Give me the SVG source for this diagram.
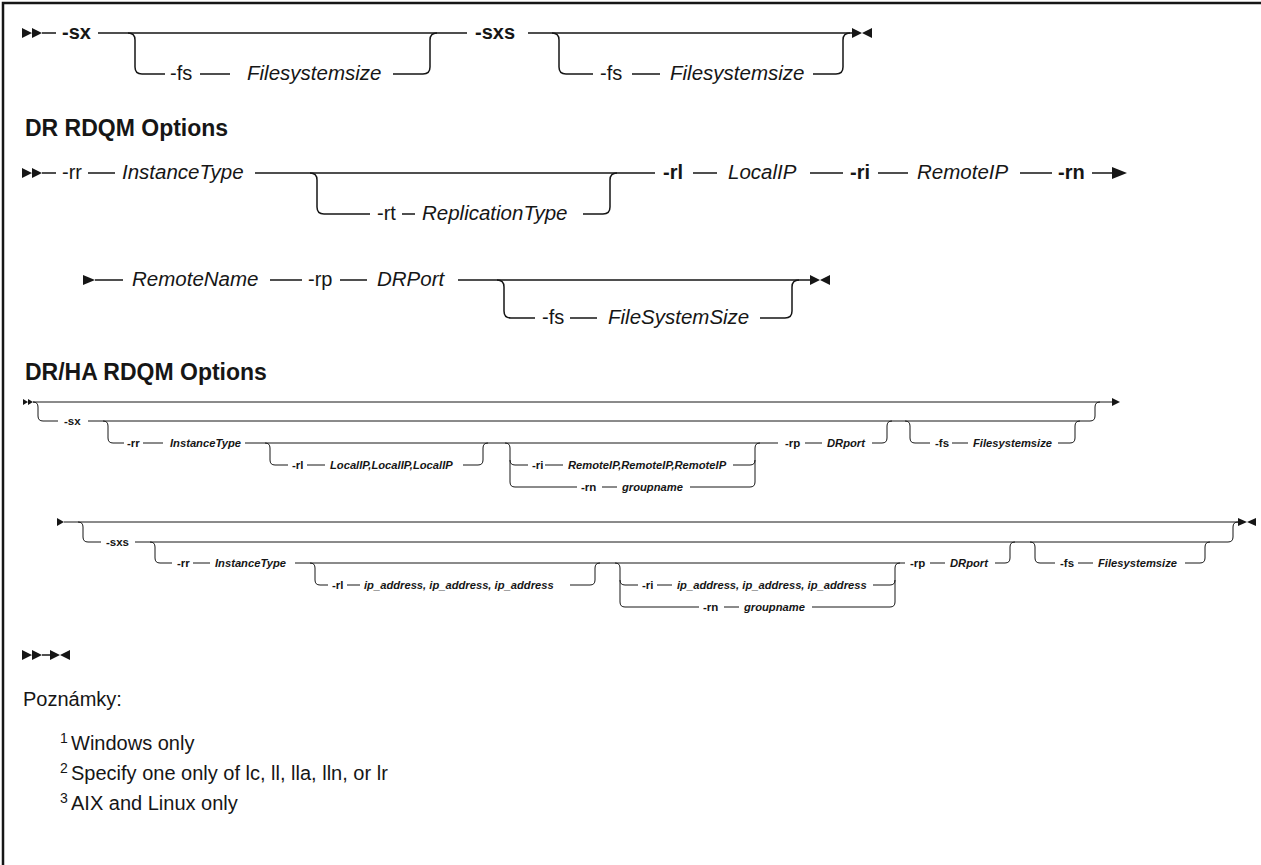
<svg xmlns="http://www.w3.org/2000/svg" width="1261" height="865" viewBox="0 0 1261 865">
<style>
text{font-family:"Liberation Sans",Arial,sans-serif;fill:#161616}
.o{font-size:20px}
.k{font-size:20px;font-weight:bold}
.v{font-size:20.5px;font-style:italic}
.h{font-size:23px;font-weight:bold}
.s{font-size:11.5px;font-weight:bold}
.sv{font-size:11.2px;font-weight:bold;font-style:italic}
.n{font-size:20px}
.sup{font-size:14px}
.L{fill:none;stroke:#161616;stroke-width:1.5}
.T{fill:none;stroke:#161616;stroke-width:1}
.m{fill:#161616}
</style>
<rect width="1261" height="865" fill="#fff"/>
<path d="M3,865 V3 H1261" fill="none" stroke="#161616" stroke-width="2.5"/>

<g id="connectors">
<!-- row 1 -->
<path class="m" d="M22,28 L32,33 L22,38 Z M32,28 L42,33 L32,38 Z"/>
<path class="L" d="M42,33 H56 M98,33 H467 M528,33 H852"/>
<path class="L" d="M128,33 Q135,33 135,40 V67 Q135,74 142,74 H165 M200,74 H230 M393,74 H423 Q430,74 430,67 V40 Q430,33 437,33"/>
<path class="L" d="M552,33 Q559,33 559,40 V67 Q559,74 566,74 H593 M632,74 H660 M813,74 H836 Q843,74 843,67 V40 Q843,33 850,33"/>
<path class="m" d="M852,28 L862,33 L852,38 Z M872,28 L862,33 L872,38 Z"/>
<!-- row 2 -->
<path class="m" d="M22,168 L32,173 L22,178 Z M32,168 L42,173 L32,178 Z"/>
<path class="L" d="M42,173 H56 M88,173 H115 M255,173 H655 M693,173 H717 M810,173 H843 M878,173 H908 M1020,173 H1052 M1092,173 H1114"/>
<path class="L" d="M310,173 Q317,173 317,180 V207 Q317,214 324,214 H370 M402,214 H415 M583,214 H603 Q610,214 610,207 V180 Q610,173 617,173"/>
<path class="m" d="M1112,167 L1127,173 L1112,179 Z"/>
<!-- row 3 -->
<path class="m" d="M83,275 L95,280 L83,285 Z"/>
<path class="L" d="M95,280 H123 M270,280 H302 M340,280 H367 M458,280 H810"/>
<path class="L" d="M497,280 Q504,280 504,287 V311 Q504,318 511,318 H535 M570,318 H597 M760,318 H785 Q792,318 792,311 V287 Q792,280 799,280"/>
<path class="m" d="M810,275 L820,280 L810,285 Z M830,275 L820,280 L830,285 Z"/>
<!-- DR/HA row 1 -->
<path class="m" d="M23,399 L28,402 L23,405 Z M28,399 L33,402 L28,405 Z"/>
<path class="T" d="M33,402 H1112"/>
<path class="m" d="M1112,398 L1120,402 L1112,406 Z"/>
<path class="T" d="M33,402 Q38,402 38,407 V416 Q38,421 43,421 H58 M88,421 H1090 Q1095,421 1095,416 V407 Q1095,402 1100,402"/>
<path class="T" d="M103,421 Q108,421 108,426 V438 Q108,443 113,443 H124 M143,443 H163 M245,443 H778"/>
<path class="T" d="M265,443 Q270,443 270,448 V460 Q270,465 275,465 H288 M307,465 H325 M463,465 H478 Q483,465 483,460 V448 Q483,443 488,443"/>
<path class="T" d="M505,443 Q510,443 510,448 V460 Q510,465 515,465 H528 M545,465 H563 M733,465 H750 Q755,465 755,460 V448 Q755,443 760,443"/>
<path class="T" d="M510,460 V482 Q510,487 515,487 H577 M602,487 H617 M690,487 H750 Q755,487 755,482 V460"/>
<path class="T" d="M805,443 H822 M872,443 H882 Q887,443 887,438 V426 Q887,421 892,421"/>
<path class="T" d="M905,421 Q910,421 910,426 V438 Q910,443 915,443 H930 M952,443 H968 M1058,443 H1070 Q1075,443 1075,438 V426 Q1075,421 1080,421"/>
<!-- DR/HA row 2 -->
<path class="m" d="M57,518 L64,522 L57,526 Z"/>
<path class="T" d="M64,522 H1238"/>
<path class="T" d="M78,522 Q83,522 83,527 V537 Q83,542 88,542 H101 M135,542 H1228 Q1233,542 1233,537 V527 Q1233,522 1238,522"/>
<path class="T" d="M150,542 Q155,542 155,547 V558 Q155,563 160,563 H172 M193,563 H210 M295,563 H905"/>
<path class="T" d="M310,563 Q315,563 315,568 V580 Q315,585 320,585 H328 M347,585 H360 M570,585 H590 Q595,585 595,580 V568 Q595,563 600,563"/>
<path class="T" d="M615,563 Q620,563 620,568 V580 Q620,585 625,585 H638 M657,585 H672 M873,585 H890 Q895,585 895,580 V568 Q895,563 900,563"/>
<path class="T" d="M620,580 V602 Q620,607 625,607 H699 M724,607 H739 M812,607 H890 Q895,607 895,602 V580"/>
<path class="T" d="M930,563 H945 M995,563 H1005 Q1010,563 1010,558 V547 Q1010,542 1015,542"/>
<path class="T" d="M1030,542 Q1035,542 1035,547 V558 Q1035,563 1040,563 H1055 M1078,563 H1093 M1185,563 H1200 Q1205,563 1205,558 V547 Q1205,542 1210,542"/>
<path class="m" d="M1238,518 L1247,522 L1238,526 Z M1256,518 L1247,522 L1256,526 Z"/>
<!-- bottom -->
<path class="m" d="M22,650 L32,655 L22,660 Z M32,650 L42,655 L32,660 Z"/>
<path class="L" d="M42,655 H50"/>
<path class="m" d="M50,650 L60,655 L50,660 Z M70,650 L60,655 L70,660 Z"/>
</g>

<g id="row1">
<g id="n-sx"><text class="k" x="62" y="39">-sx</text></g>
<g id="n-fs1"><text class="o" x="170" y="80">-fs</text></g>
<g id="n-fss1"><text class="v" x="247" y="80">Filesystemsize</text></g>
<g id="n-sxs"><text class="k" x="475" y="39">-sxs</text></g>
<g id="n-fs2"><text class="o" x="600" y="80">-fs</text></g>
<g id="n-fss2"><text class="v" x="670" y="80">Filesystemsize</text></g>
</g>

<g id="h1"><text class="h" x="25" y="136">DR RDQM Options</text></g>

<g id="row2">
<g id="n-rr"><text class="o" x="62" y="179">-rr</text></g>
<g id="n-it"><text class="v" x="122" y="179">InstanceType</text></g>
<g id="n-rt"><text class="o" x="377" y="220">-rt</text></g>
<g id="n-rtype"><text class="v" x="422" y="220">ReplicationType</text></g>
<g id="n-rl"><text class="k" x="663" y="179">-rl</text></g>
<g id="n-lip"><text class="v" x="728" y="179">LocalIP</text></g>
<g id="n-ri"><text class="k" x="850" y="179">-ri</text></g>
<g id="n-rip"><text class="v" x="917" y="179">RemoteIP</text></g>
<g id="n-rn"><text class="k" x="1058" y="179">-rn</text></g>
</g>

<g id="row3">
<g id="n-rname"><text class="v" x="132" y="286">RemoteName</text></g>
<g id="n-rp"><text class="o" x="308" y="286">-rp</text></g>
<g id="n-drport"><text class="v" x="377" y="286">DRPort</text></g>
<g id="n-fs3"><text class="o" x="542" y="324">-fs</text></g>
<g id="n-fss3"><text class="v" x="608" y="324">FileSystemSize</text></g>
</g>

<g id="h2"><text class="h" x="25" y="380">DR/HA RDQM Options</text></g>

<g id="ha1">
<g id="a-sx"><text class="s" x="64" y="425">-sx</text></g>
<g id="a-rr"><text class="s" x="127" y="447">-rr</text></g>
<g id="a-it"><text class="sv" x="170" y="447">InstanceType</text></g>
<g id="a-rl"><text class="s" x="292" y="469">-rl</text></g>
<g id="a-lip"><text class="sv" x="330" y="469">LocalIP,LocalIP,LocalIP</text></g>
<g id="a-ri"><text class="s" x="532" y="469">-ri</text></g>
<g id="a-rip"><text class="sv" x="568" y="469">RemoteIP,RemoteIP,RemoteIP</text></g>
<g id="a-rn"><text class="s" x="581" y="491">-rn</text></g>
<g id="a-gn"><text class="sv" x="622" y="491">groupname</text></g>
<g id="a-rp"><text class="s" x="785" y="447">-rp</text></g>
<g id="a-drp"><text class="sv" x="827" y="447">DRport</text></g>
<g id="a-fs"><text class="s" x="935" y="447">-fs</text></g>
<g id="a-fss"><text class="sv" x="973" y="447">Filesystemsize</text></g>
</g>

<g id="ha2">
<g id="b-sxs"><text class="s" x="106" y="546">-sxs</text></g>
<g id="b-rr"><text class="s" x="177" y="567">-rr</text></g>
<g id="b-it"><text class="sv" x="215" y="567">InstanceType</text></g>
<g id="b-rl"><text class="s" x="332" y="589">-rl</text></g>
<g id="b-lip"><text class="sv" x="364" y="589">ip_address, ip_address, ip_address</text></g>
<g id="b-ri"><text class="s" x="642" y="589">-ri</text></g>
<g id="b-rip"><text class="sv" x="677" y="589">ip_address, ip_address, ip_address</text></g>
<g id="b-rn"><text class="s" x="703" y="611">-rn</text></g>
<g id="b-gn"><text class="sv" x="744" y="611">groupname</text></g>
<g id="b-rp"><text class="s" x="910" y="567">-rp</text></g>
<g id="b-drp"><text class="sv" x="950" y="567">DRport</text></g>
<g id="b-fs"><text class="s" x="1060" y="567">-fs</text></g>
<g id="b-fss"><text class="sv" x="1098" y="567">Filesystemsize</text></g>
</g>

<g id="notes">
<text class="n" x="23" y="706">Poznámky:</text>
<text class="sup" x="60" y="743">1</text><text class="n" x="71" y="750">Windows only</text>
<text class="sup" x="60" y="773">2</text><text class="n" x="71" y="780">Specify one only of lc, ll, lla, lln, or lr</text>
<text class="sup" x="60" y="803">3</text><text class="n" x="71" y="810">AIX and Linux only</text>
</g>
</svg>
